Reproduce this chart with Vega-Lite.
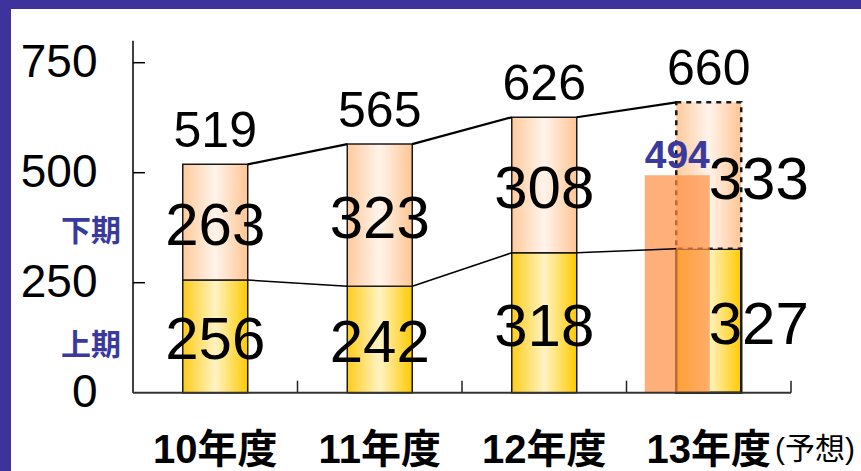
{
  "$schema": "https://vega.github.io/schema/vega-lite/v6.json",
  "width": 850,
  "height": 462,
  "autosize": {"type": "none"},
  "padding": {"left": 11, "top": 9, "right": 0, "bottom": 0},
  "background": "#3E329C",
  "config": {"view": {"stroke": null, "fill": "white"}, "font": "Liberation Sans"},
  "datasets": {
    "sales": [
      {"year": "10年度", "half": "上期", "value": 256},
      {"year": "10年度", "half": "下期", "value": 263},
      {"year": "11年度", "half": "上期", "value": 242},
      {"year": "11年度", "half": "下期", "value": 323},
      {"year": "12年度", "half": "上期", "value": 318},
      {"year": "12年度", "half": "下期", "value": 308},
      {"year": "13年度", "half": "上期", "value": 327},
      {"year": "13年度", "half": "下期", "value": 333}
    ],
    "forecast": [{"year": "13年度", "value": 494}],
    "note": [{"year": "13年度", "text": "(予想)"}],
    "yticks": [{"tick": 250}, {"tick": 500}, {"tick": 750}]
  },
  "data": {"name": "sales"},
  "transform": [
    {"stack": "value", "groupby": ["year"], "sort": [{"field": "half", "order": "ascending"}], "as": ["v0", "v1"]},
    {"calculate": "(datum.v0 + datum.v1) / 2", "as": "mid"}
  ],
  "layer": [
    {
      "transform": [{"filter": "datum.half === '上期'"}],
      "mark": {
        "type": "bar",
        "width": {"band": 0.395},
        "color": {"gradient": "linear", "x1": 0, "x2": 1, "y1": 0, "y2": 0,
          "stops": [{"offset": 0, "color": "#FFCC1A"}, {"offset": 0.5, "color": "#FFF3C4"}, {"offset": 1, "color": "#FFCA00"}]},
        "stroke": "#1a1a1a"
      },
      "encoding": {
        "x": {
          "field": "year", "type": "nominal",
          "scale": {"domain": ["10年度", "11年度", "12年度", "13年度"], "paddingInner": 0, "paddingOuter": 0.58359, "align": 0.63542},
          "axis": {
            "title": null, "offset": -78.3, "domain": false, "ticks": false,
            "labelAngle": 0, "labelFontSize": 40, "labelFontWeight": "bold",
            "labelFont": "Liberation Sans, Noto Sans CJK JP", "labelColor": "black", "labelPadding": 38
          }
        },
        "y": {
          "field": "v0", "type": "quantitative",
          "scale": {"domain": [-177.95, 872.05], "nice": false, "zero": false},
          "axis": {
            "title": null, "offset": -122, "domain": false, "grid": false, "values": [0, 250, 500, 750],
            "ticks": false, "labelFontSize": 46, "labelColor": "black",
            "labelPadding": 36, "labelFont": "Liberation Sans"
          }
        },
        "y2": {"field": "v1"},
        "strokeWidth": {"condition": {"test": "datum.year === '13年度'", "value": 2.5}, "value": 1.5}
      }
    },
    {
      "transform": [{"filter": "datum.half === '下期'"}],
      "mark": {
        "type": "bar",
        "width": {"band": 0.395},
        "color": {"gradient": "linear", "x1": 0, "x2": 1, "y1": 0, "y2": 0,
          "stops": [{"offset": 0, "color": "#FFCA9C"}, {"offset": 0.5, "color": "#FFF4EB"}, {"offset": 1, "color": "#FFC593"}]},
        "stroke": "#1a1a1a"
      },
      "encoding": {
        "x": {"field": "year", "type": "nominal"},
        "y": {"field": "v0", "type": "quantitative"},
        "y2": {"field": "v1"},
        "strokeWidth": {"condition": {"test": "datum.year === '13年度'", "value": 2.5}, "value": 1.5},
        "strokeDash": {"condition": {"test": "datum.year === '13年度'", "value": [5, 5]}, "value": [1, 0]}
      }
    },
    {
      "data": {"name": "forecast"},
      "mark": {"type": "bar", "width": {"band": 0.395}, "xOffset": -31.5, "color": "#FF8E41", "opacity": 0.7},
      "encoding": {
        "x": {"field": "year", "type": "nominal"},
        "y": {"field": "value", "type": "quantitative"},
        "y2": {"datum": 0}
      }
    },
    {
      "transform": [
        {"window": [{"op": "lead", "field": "year", "as": "nextYear"}, {"op": "lead", "field": "v1", "as": "nextV1"}],
         "groupby": ["half"], "sort": [{"field": "year", "order": "ascending"}]},
        {"filter": "datum.nextYear != null"}
      ],
      "mark": {"type": "rule", "color": "black", "xOffset": 32.5, "x2Offset": -32.5},
      "encoding": {
        "x": {"field": "year", "type": "nominal"},
        "x2": {"field": "nextYear"},
        "y": {"field": "v1", "type": "quantitative"},
        "y2": {"field": "nextV1"},
        "strokeWidth": {"condition": {"test": "datum.half === '下期'", "value": 2.2}, "value": 1.5}
      }
    },
    {
      "transform": [{"filter": "datum.year !== '13年度'"}],
      "mark": {"type": "text", "fontSize": 60, "baseline": "middle", "dy": 5, "color": "black"},
      "encoding": {
        "x": {"field": "year", "type": "nominal"},
        "y": {"field": "mid", "type": "quantitative"},
        "text": {"field": "value"}
      }
    },
    {
      "transform": [{"filter": "datum.year === '13年度'"}],
      "mark": {"type": "text", "fontSize": 60, "baseline": "middle", "dy": 5, "dx": 50, "color": "black"},
      "encoding": {
        "x": {"field": "year", "type": "nominal"},
        "y": {"field": "mid", "type": "quantitative"},
        "text": {"field": "value"}
      }
    },
    {
      "transform": [{"filter": "datum.half === '下期'"}],
      "mark": {"type": "text", "fontSize": 50, "baseline": "alphabetic", "dy": -17, "color": "black"},
      "encoding": {
        "x": {"field": "year", "type": "nominal"},
        "y": {"field": "v1", "type": "quantitative"},
        "text": {"field": "v1"}
      }
    },
    {
      "data": {"name": "forecast"},
      "mark": {"type": "text", "fontSize": 39, "fontWeight": "bold", "baseline": "alphabetic", "dy": -7, "xOffset": -31.5, "color": "#3A3A9E"},
      "encoding": {
        "x": {"field": "year", "type": "nominal"},
        "y": {"field": "value", "type": "quantitative"},
        "text": {"field": "value"}
      }
    },
    {
      "transform": [{"filter": "datum.year === '10年度'"}],
      "mark": {"type": "text", "fontSize": 30, "fontWeight": "bold", "font": "Noto Sans CJK JP", "align": "right", "baseline": "middle", "dx": -12, "dy": 10, "color": "#3A3A9E"},
      "encoding": {
        "x": {"field": "year", "type": "nominal", "bandPosition": 0},
        "y": {"field": "mid", "type": "quantitative"},
        "text": {"field": "half"}
      }
    },
    {
      "data": {"name": "note"},
      "mark": {"type": "text", "fontSize": 30, "font": "Liberation Sans, Noto Sans CJK JP", "align": "left", "baseline": "middle", "dx": -16, "dy": 57, "color": "black"},
      "encoding": {
        "x": {"field": "year", "type": "nominal", "bandPosition": 1},
        "y": {"datum": 0, "type": "quantitative"},
        "text": {"field": "text"}
      }
    },
    {
      "data": {"name": "yticks"},
      "mark": {"type": "rule", "color": "black", "strokeWidth": 1.5, "x2Offset": 12},
      "encoding": {
        "x": {"datum": "10年度", "bandPosition": 0},
        "x2": {"datum": "10年度", "bandPosition": 0},
        "y": {"field": "tick", "type": "quantitative"}
      }
    },
    {
      "transform": [{"filter": "datum.half === '上期'"}],
      "mark": {"type": "rule", "color": "#222222", "strokeWidth": 1.5, "y2Offset": -12},
      "encoding": {
        "x": {"field": "year", "type": "nominal", "bandPosition": 1},
        "y": {"datum": 0, "type": "quantitative"},
        "y2": {"datum": 0}
      }
    },
    {
      "data": {"values": [{}]},
      "mark": {"type": "rule", "color": "black", "strokeWidth": 1.5},
      "encoding": {
        "x": {"datum": "10年度", "bandPosition": 0},
        "y": {"datum": 0, "type": "quantitative"},
        "y2": {"datum": 800}
      }
    },
    {
      "data": {"values": [{}]},
      "mark": {"type": "rule", "color": "#333333", "strokeWidth": 2},
      "encoding": {
        "x": {"datum": "10年度", "bandPosition": 0},
        "x2": {"datum": "13年度", "bandPosition": 1},
        "y": {"datum": 0, "type": "quantitative"}
      }
    }
  ]
}
